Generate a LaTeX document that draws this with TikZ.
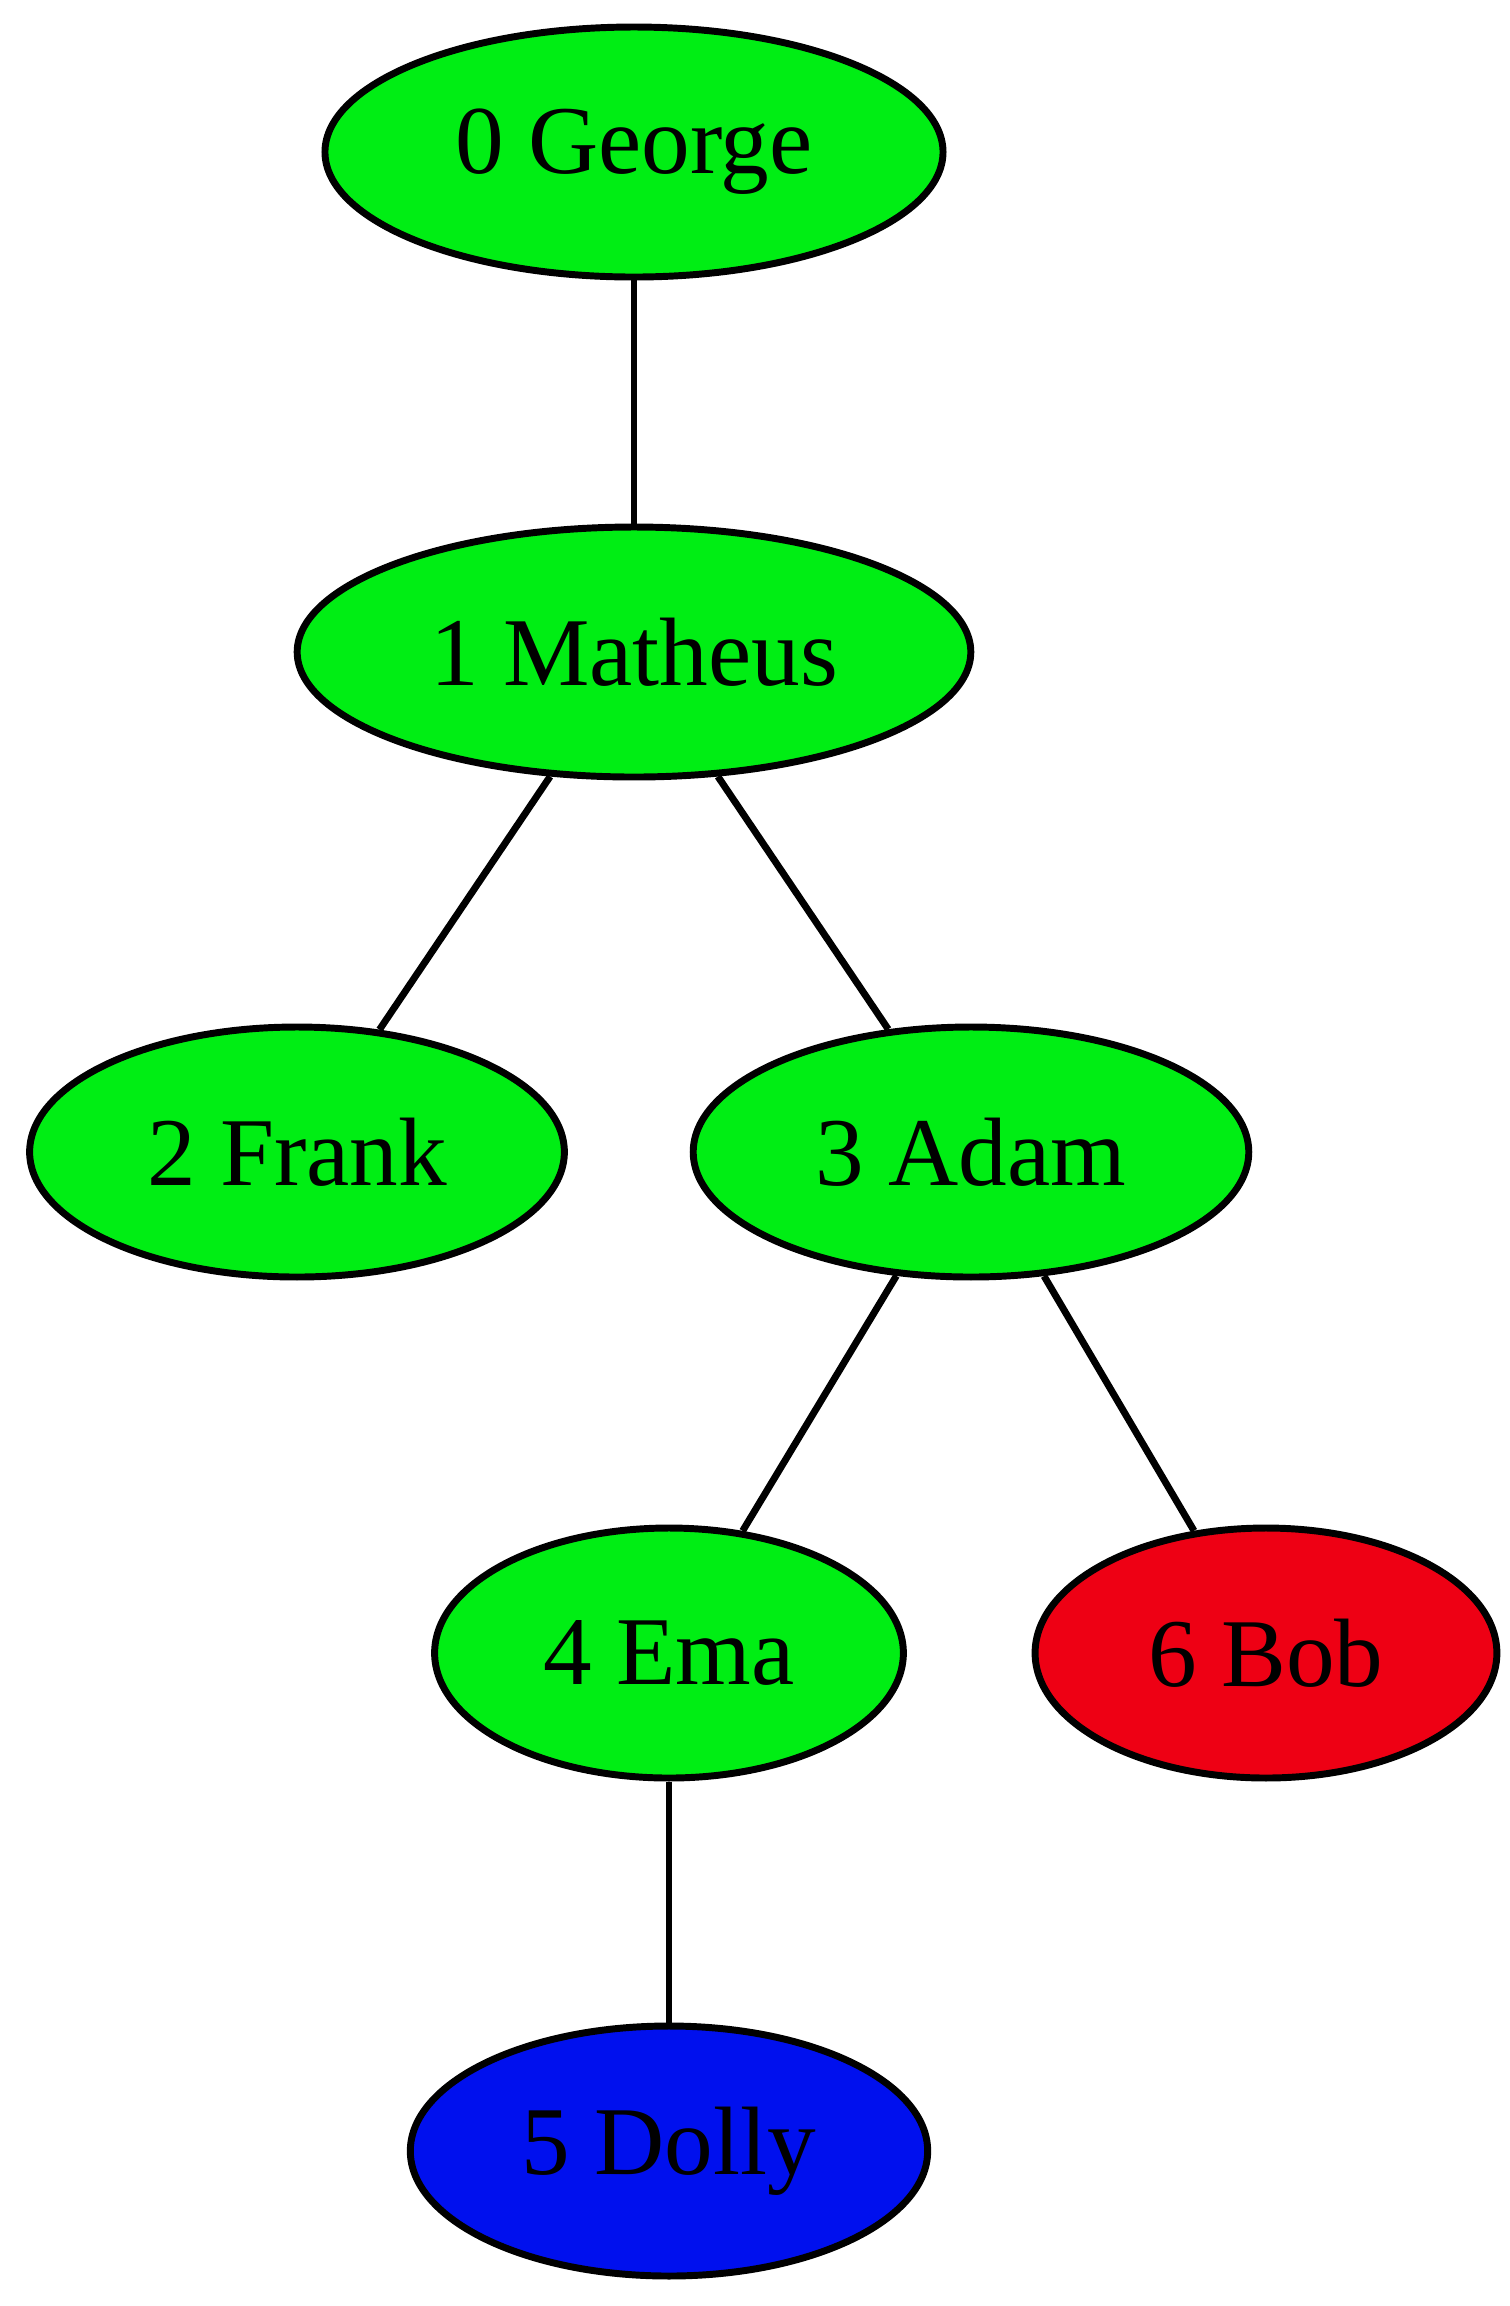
\documentclass[tikz,border=0pt]{standalone}
\usepackage{fontspec}
\setmainfont{Liberation Serif}
\usetikzlibrary{shapes.geometric}
\definecolor{gvgreen}{RGB}{0,238,20}
\definecolor{gvred}{RGB}{238,0,20}
\definecolor{gvblue}{RGB}{0,16,238}
\tikzset{
  gvnode/.style={ellipse, draw=black, line width=1pt, inner sep=0pt, minimum height=36pt, font=\fontsize{14pt}{16pt}\selectfont, text=black},
  gvedge/.style={draw=black, line width=1pt}
}
\begin{document}
\begin{tikzpicture}[x=0.144pt, y=-0.144pt]
\useasboundingbox (0,0) rectangle (1510,2306);
\node[gvnode, fill=gvgreen, minimum width=89pt] (n0) at (634,152) {0 George};
\node[gvnode, fill=gvgreen, minimum width=97pt] (n1) at (634,652) {1 Matheus};
\node[gvnode, fill=gvgreen, minimum width=77pt] (n2) at (297,1152) {2 Frank};
\node[gvnode, fill=gvgreen, minimum width=80pt] (n3) at (971,1152) {3 Adam};
\node[gvnode, fill=gvgreen, minimum width=67.5pt] (n4) at (669,1653) {4 Ema};
\node[gvnode, fill=gvred, minimum width=66.5pt] (n6) at (1266,1653) {6 Bob};
\node[gvnode, fill=gvblue, minimum width=74.5pt] (n5) at (669,2151) {5 Dolly};
\draw[gvedge] (n0) -- (n1);
\draw[gvedge] (n1) -- (n2);
\draw[gvedge] (n1) -- (n3);
\draw[gvedge] (n3) -- (n4);
\draw[gvedge] (n3) -- (n6);
\draw[gvedge] (n4) -- (n5);
\end{tikzpicture}
\end{document}
